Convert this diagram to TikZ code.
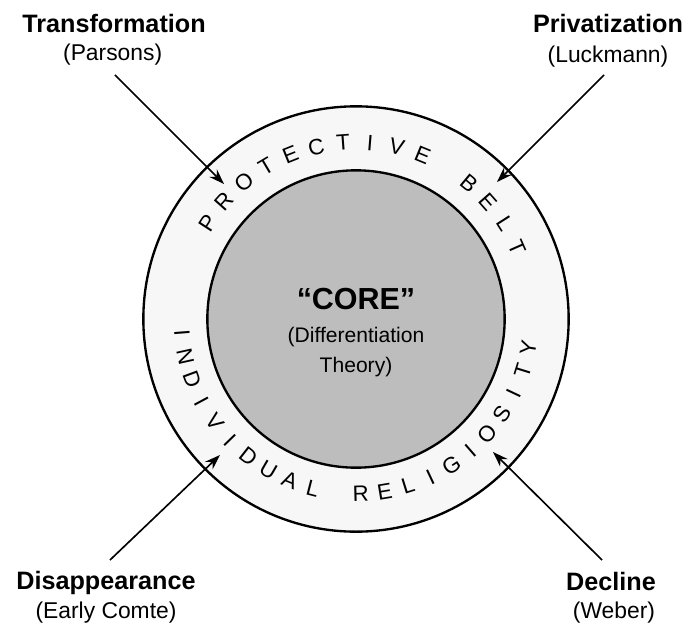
\documentclass[tikz,border=0pt]{standalone}
\usepackage{fontspec}
\setmainfont{Liberation Sans}
\usetikzlibrary{arrows.meta}
\tikzset{>={Stealth[length=4.6mm,width=3.2mm]}}

\begin{document}
\begin{tikzpicture}[
  school/.style={font=\fontsize{21.5}{24}\selectfont\bfseries,inner sep=0pt},
  founder/.style={font=\fontsize{19.5}{22}\selectfont,inner sep=0pt},
  beltletter/.style={font=\fontsize{19}{22}\selectfont,inner sep=0pt},
  push/.style={->,line width=1.4pt}]
\useasboundingbox (-10.68,-9.27) rectangle (10.05,9.57);
\coordinate (O) at (0,0);
\draw[line width=2pt,fill=black!3] (O) circle[radius=6.38cm];
\draw[line width=2pt,fill=black!26] (O) circle[radius=4.46cm];
\node[font=\fontsize{26}{30}\selectfont\bfseries,inner sep=0pt] (core) at (0,0.6) {“CORE”};
\node[founder,font=\fontsize{18}{25}\selectfont,align=center] (theory) at (0,-0.99) {(Differentiation\\Theory)};
\foreach \ch [count=\i,evaluate=\i as \a using 147-(\i-1)*8.8] in {P,R,O,T,E,C,T,I,V,E,{},B,E,L,T}
  \node[beltletter,rotate=\a-90] at (\a:5.3) {\ch};
\foreach \ch [count=\i,evaluate=\i as \a using 184.5+(\i-1)*7.91] in {I,N,D,I,V,I,D,U,A,L,{},R,E,L,I,G,I,O,S,I,T,Y}
  \node[beltletter,rotate=\a+90] at (\a:5.24) {\ch};
\node[school] (trans) at (-7.26,8.88) {Transformation};
\node[founder] (parsons) at (-7.3,7.92) {(Parsons)};
\node[school] (priv) at (7.56,8.88) {Privatization};
\node[founder] (luck) at (7.56,7.86) {(Luckmann)};
\node[school] (disap) at (-7.5,-7.92) {Disappearance};
\node[founder] (comte) at (-7.5,-8.82) {(Early Comte)};
\node[school] (decl) at (7.65,-7.86) {Decline};
\node[founder] (weber) at (7.74,-8.82) {(Weber)};
\coordinate (tl tail) at (-7.23,7.32);
\coordinate (tl tip) at (-3.96,4.05);
\coordinate (tr tail) at (7.44,7.32);
\coordinate (tr tip) at (4.23,4.11);
\coordinate (bl tail) at (-7.38,-7.23);
\coordinate (bl tip) at (-4.08,-4.08);
\coordinate (br tail) at (7.38,-7.23);
\coordinate (br tip) at (4.11,-3.99);
\draw[push] (tl tail) -- (tl tip);
\draw[push] (tr tail) -- (tr tip);
\draw[push] (bl tail) -- (bl tip);
\draw[push] (br tail) -- (br tip);
\end{tikzpicture}
\end{document}
